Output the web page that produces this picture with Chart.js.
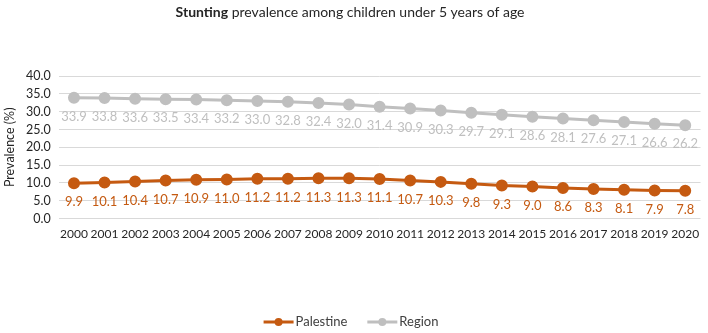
<!DOCTYPE html>
<html>
<head>
<meta charset="utf-8">
<script src="https://cdn.jsdelivr.net/npm/chart.js@4"></script>
<style>
  html, body { margin: 0; padding: 0; background: #fff; }
  #wrap { width: 708px; height: 333px; }
</style>
</head>
<body>
<div id="wrap"><canvas id="myChart"></canvas></div>
<script>
const years = ['2000', '2001', '2002', '2003', '2004', '2005', '2006', '2007', '2008', '2009', '2010',
  '2011', '2012', '2013', '2014', '2015', '2016', '2017', '2018', '2019', '2020'];
const palestine = [9.9, 10.1, 10.4, 10.7, 10.9, 11.0, 11.2, 11.2, 11.3, 11.3, 11.1,
  10.7, 10.3, 9.8, 9.3, 9.0, 8.6, 8.3, 8.1, 7.9, 7.8];
const region = [33.9, 33.8, 33.6, 33.5, 33.4, 33.2, 33.0, 32.8, 32.4, 32.0, 31.4,
  30.9, 30.3, 29.7, 29.1, 28.6, 28.1, 27.6, 27.1, 26.6, 26.2];
const seriesNames = ['Palestine', 'Region'];
const seriesColors = ['#C55A11', '#BFBFBF'];

const fontFamily = 'Lato, "Open Sans", sans-serif';

// title with a bold first word
const titlePlugin = {
  id: 'mixedTitle',
  afterDraw(chart) {
    const { ctx } = chart;
    ctx.save();
    ctx.textBaseline = 'middle';
    ctx.fillStyle = '#262626';
    const bold = 'Stunting';
    const rest = ' prevalence among children under 5 years of age';
    ctx.font = 'bold 14px ' + fontFamily;
    const wb = ctx.measureText(bold).width;
    ctx.font = '14px ' + fontFamily;
    const wr = ctx.measureText(rest).width;
    let x = 350 - (wb + wr) / 2;
    ctx.font = 'bold 14px ' + fontFamily;
    ctx.fillText(bold, x, 12);
    ctx.font = '14px ' + fontFamily;
    ctx.fillText(rest, x + wb, 12);
    ctx.restore();
  },
};

// value labels under each point
const labelPlugin = {
  id: 'pointLabels',
  afterDatasetsDraw(chart) {
    const { ctx } = chart;
    ctx.save();
    ctx.font = '13px ' + fontFamily;
    ctx.textAlign = 'center';
    ctx.textBaseline = 'middle';
    chart.data.datasets.forEach((ds, i) => {
      const meta = chart.getDatasetMeta(i);
      ctx.fillStyle = ds.borderColor;
      meta.data.forEach((pt, j) => {
        ctx.fillText(ds.data[j].toFixed(1), pt.x, pt.y + 19);
      });
    });
    ctx.restore();
  },
};

// legend: line with a dot
const legendPlugin = {
  id: 'lineLegend',
  afterDraw(chart) {
    const { ctx } = chart;
    ctx.save();
    ctx.font = '13px ' + fontFamily;
    ctx.textBaseline = 'middle';
    const y = 322;
    const lineW = 30;
    const gap = 20;
    const widths = chart.data.datasets.map((ds) => lineW + 2 + ctx.measureText(ds.label).width);
    const total = widths.reduce((a, b) => a + b, 0) + gap * (widths.length - 1);
    let x = 351 - total / 2;
    chart.data.datasets.forEach((ds, i) => {
      ctx.strokeStyle = ds.borderColor;
      ctx.fillStyle = ds.borderColor;
      ctx.lineWidth = 3;
      ctx.beginPath();
      ctx.moveTo(x, y);
      ctx.lineTo(x + lineW, y);
      ctx.stroke();
      ctx.beginPath();
      ctx.arc(x + lineW / 2, y, 4, 0, Math.PI * 2);
      ctx.fill();
      ctx.fillStyle = '#404040';
      ctx.fillText(ds.label, x + lineW + 2, y);
      x += widths[i] + gap;
    });
    ctx.restore();
  },
};

const data = {
  labels: years,
  datasets: [palestine, region].map((vals, i) => ({
    label: seriesNames[i],
    data: vals,
    borderColor: seriesColors[i],
    backgroundColor: seriesColors[i],
    borderWidth: 3,
    pointRadius: 4.5,
    pointHoverRadius: 4.5,
    tension: 0,
  })),
};

const config = {
  type: 'line',
  data: data,
  options: {
    responsive: true,
    maintainAspectRatio: false,
    animation: false,
    layout: { padding: { top: 76, right: 2, bottom: 92, left: 1 } },
    plugins: {
      legend: { display: false },
      title: { display: false },
      tooltip: { enabled: false },
    },
    scales: {
      x: {
        offset: true,
        grid: { display: false },
        border: { display: false },
        ticks: {
          color: '#262626',
          font: { family: fontFamily, size: 12 },
          maxRotation: 0,
          autoSkip: false,
          padding: 0,
        },
      },
      y: {
        min: 0,
        max: 40,
        grid: { color: '#D9D9D9', drawTicks: false },
        border: { display: false },
        ticks: {
          stepSize: 5,
          autoSkip: false,
          color: '#262626',
          font: { family: fontFamily, size: 12.5 },
          padding: 8,
          callback: (v) => v.toFixed(1),
        },
        title: {
          display: true,
          text: 'Prevalence (%)',
          color: '#262626',
          font: { family: fontFamily, size: 12.5 },
          padding: 1,
        },
      },
    },
  },
  plugins: [titlePlugin, labelPlugin, legendPlugin],
};

const myChart = new Chart(document.getElementById('myChart'), config);
</script>
</body>
</html>
